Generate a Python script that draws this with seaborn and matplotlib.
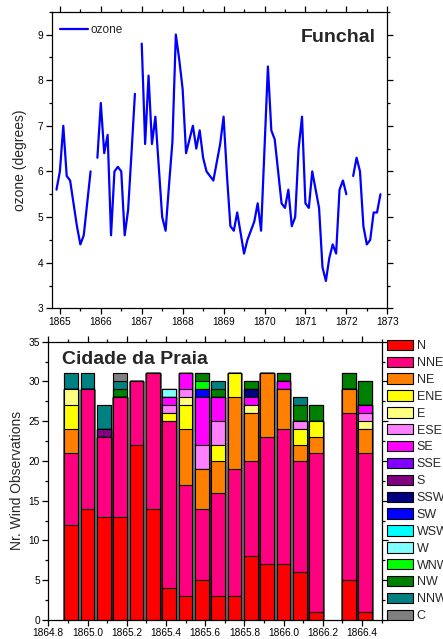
import numpy as np
import pandas as pd
import matplotlib
matplotlib.use('Agg')
import matplotlib.pyplot as plt
from matplotlib.ticker import MultipleLocator
from matplotlib.patches import Patch
from matplotlib.lines import Line2D
import seaborn as sns

# Monthly ozone at Funchal, Dec 1864 .. Nov 1872 (None = no data)
ozone_start = (1864, 12)
ozone = [5.6,
         6.0, 7.0, 5.9, 5.8, 5.3, 4.8, 4.4, 4.6, 5.3, 6.0, None, 6.3,
         7.5, 6.4, 6.8, 4.6, 6.0, 6.1, 6.0, 4.6, 5.15, 6.4, 7.7, None,
         8.8, 6.6, 8.1, 6.6, 7.2, 6.1, 5.0, 4.7, 5.7, 6.65, 9.0, 8.45,
         7.8, 6.4, 6.7, 7.0, 6.5, 6.9, 6.3, 6.0, 5.9, 5.8, 6.2, 6.6,
         7.2, 5.9, 4.8, 4.7, 5.1, 4.65, 4.2, 4.5, 4.7, 4.9, 5.3, 4.7,
         6.5, 8.3, 6.9, 6.7, 6.0, 5.3, 5.2, 5.6, 4.8, 5.0, 6.5, 7.2,
         5.3, 5.2, 6.0, 5.6, 5.2, 3.9, 3.6, 4.1, 4.4, 4.2, 5.6, 5.8,
         5.5, None, 5.9, 6.3, 6.0, 4.8, 4.4, 4.5, 5.1, 5.1, 5.5]

# Wind observations at Cidade da Praia (Apr 1866 missing)
wind_months = ['1864-12', '1865-01', '1865-02', '1865-03', '1865-04', '1865-05',
               '1865-06', '1865-07', '1865-08', '1865-09', '1865-10', '1865-11',
               '1865-12', '1866-01', '1866-02', '1866-03', '1866-05', '1866-06']
wind_dirs = ['N', 'NNE', 'NE', 'ENE', 'E', 'ESE', 'SE', 'SSE', 'S',
             'SSW', 'SW', 'WSW', 'W', 'WNW', 'NW', 'NNW', 'C']
wind_counts = {
    'N':   [12, 14, 13, 13, 22, 14, 4, 3, 5, 3, 3, 8, 7, 7, 6, 1, 5, 1],
    'NNE': [9, 15, 10, 15, 8, 17, 21, 14, 9, 13, 16, 12, 16, 17, 14, 20, 21, 20],
    'NE':  [3, 0, 0, 0, 0, 0, 0, 7, 5, 4, 9, 6, 8, 5, 2, 2, 3, 3],
    'ENE': [3, 0, 0, 0, 0, 0, 1, 3, 0, 2, 3, 0, 0, 0, 2, 2, 0, 0],
    'E':   [2, 0, 0, 0, 0, 0, 0, 1, 0, 0, 0, 1, 0, 0, 0, 0, 0, 1],
    'ESE': [0, 0, 0, 0, 0, 0, 1, 1, 3, 3, 0, 0, 0, 0, 1, 0, 0, 1],
    'SE':  [0, 0, 0, 0, 0, 0, 1, 2, 6, 3, 0, 1, 0, 1, 0, 0, 0, 1],
    'SSE': [0] * 18,
    'S':   [0, 0, 1, 0, 0, 0, 0, 0, 0, 0, 0, 0, 0, 0, 0, 0, 0, 0],
    'SSW': [0, 0, 0, 0, 0, 0, 0, 0, 0, 0, 0, 1, 0, 0, 0, 0, 0, 0],
    'SW':  [0, 0, 0, 0, 0, 0, 0, 0, 1, 0, 0, 0, 0, 0, 0, 0, 0, 0],
    'WSW': [0] * 18,
    'W':   [0, 0, 0, 0, 0, 0, 1, 0, 0, 0, 0, 0, 0, 0, 0, 0, 0, 0],
    'WNW': [0, 0, 0, 0, 0, 0, 0, 0, 1, 0, 0, 0, 0, 0, 0, 0, 0, 0],
    'NW':  [0, 0, 0, 1, 0, 0, 0, 0, 1, 1, 0, 1, 0, 1, 2, 2, 2, 3],
    'NNW': [2, 2, 3, 1, 0, 0, 0, 0, 0, 1, 0, 0, 0, 0, 1, 0, 0, 0],
    'C':   [0, 0, 0, 1, 0, 0, 0, 0, 0, 0, 0, 0, 0, 0, 0, 0, 0, 0],
}
wind_colors = ['#FF0000', '#FF0080', '#FF8000', '#FFFF00', '#FFFF80', '#FF80FF',
               '#FF00FF', '#8000FF', '#800080', '#000080', '#0000FF', '#00FFFF',
               '#80FFFF', '#00FF00', '#008000', '#008080', '#808080']

sns.set_theme(style='ticks')
plt.rcParams['font.family'] = ['Liberation Sans', 'DejaVu Sans']
plt.rcParams['axes.linewidth'] = 0.9

fig = plt.figure(figsize=(4.43, 6.39), dpi=100)
ax1 = fig.add_axes([0.1167, 0.5175, 0.7575, 0.4642])
ax2 = fig.add_axes([0.109, 0.0297, 0.7526, 0.4356])

# ---- top: ozone line ----
oz = pd.DataFrame({'ozone': pd.to_numeric(pd.Series(ozone), errors='coerce')})
y0, m0 = ozone_start
oz['t'] = y0 + (m0 - 1 + np.arange(len(oz))) / 12
oz['seg'] = oz['ozone'].isna().cumsum()
oz = oz.dropna()
sns.lineplot(data=oz, x='t', y='ozone', units='seg', estimator=None,
             color='#0000FF', linewidth=1.6, ax=ax1)
ax1.set_xlim(1864.8, 1873)
ax1.set_ylim(3, 9.5)
ax1.xaxis.set_major_locator(MultipleLocator(1))
ax1.xaxis.set_minor_locator(MultipleLocator(0.5))
ax1.yaxis.set_major_locator(MultipleLocator(1))
ax1.yaxis.set_minor_locator(MultipleLocator(0.5))
ax1.set_xlabel('')
ax1.set_ylabel('ozone (degrees)', fontsize=10)
ax1.yaxis.set_label_coords(-0.075, 0.5)
ax1.legend(handles=[Line2D([], [], color='#0000FF', lw=1.6, label='ozone')],
           loc='upper left', bbox_to_anchor=(0.0, 0.985), frameon=False,
           fontsize=8.5, handlelength=2.4, handletextpad=0.2, borderaxespad=0.3)
ax1.text(0.966, 0.898, 'Funchal', transform=ax1.transAxes, ha='right',
         va='baseline', fontsize=14, fontweight='bold')

# ---- bottom: stacked wind bars ----
dates = pd.to_datetime(wind_months)
t_wind = dates.year + (dates.month - 1) / 12
counts = pd.DataFrame(wind_counts, index=t_wind)[wind_dirs]
cum = counts.cumsum(axis=1)
for d, col in reversed(list(zip(wind_dirs, wind_colors))):
    sns.barplot(x=cum.index, y=cum[d].values, native_scale=True, color=col,
                edgecolor='black', linewidth=0.8, width=0.84, errorbar=None,
                saturation=1, ax=ax2)
ax2.set_xlim(1864.8, 1866.5)
ax2.set_ylim(0, 35)
ax2.xaxis.set_major_locator(MultipleLocator(0.2))
ax2.xaxis.set_minor_locator(MultipleLocator(0.1))
ax2.yaxis.set_major_locator(MultipleLocator(5))
ax2.yaxis.set_minor_locator(MultipleLocator(2.5))
ax2.xaxis.set_major_formatter(plt.FuncFormatter(lambda v, p: f'{v:.1f}'))
ax2.set_xlabel('')
ax2.set_ylabel('Nr. Wind Observations', fontsize=10)
ax2.yaxis.set_label_coords(-0.072, 0.5)
ax2.text(0.04, 0.919, 'Cidade da Praia', transform=ax2.transAxes, ha='left',
         va='baseline', fontsize=14, fontweight='bold')
handles = [Patch(facecolor=c, edgecolor='black', linewidth=0.8, label=d)
           for d, c in zip(wind_dirs, wind_colors)]
ax2.legend(handles=handles, loc='upper left', bbox_to_anchor=(1.0, 1.025),
           frameon=False, fontsize=9, handlelength=2.1, handleheight=0.9,
           labelspacing=0.35, handletextpad=0.3, borderaxespad=0.0)

for ax in (ax1, ax2):
    ax.tick_params(which='both', direction='out', top=True, right=True,
                   labeltop=False, labelright=False, colors='black', width=0.9)
    ax.tick_params(which='major', length=4, labelsize=7.3, pad=2)
    ax.tick_params(which='minor', length=2.5)
    for s in ax.spines.values():
        s.set_visible(True)
        s.set_color('black')

fig.savefig('out.png', dpi=100)
